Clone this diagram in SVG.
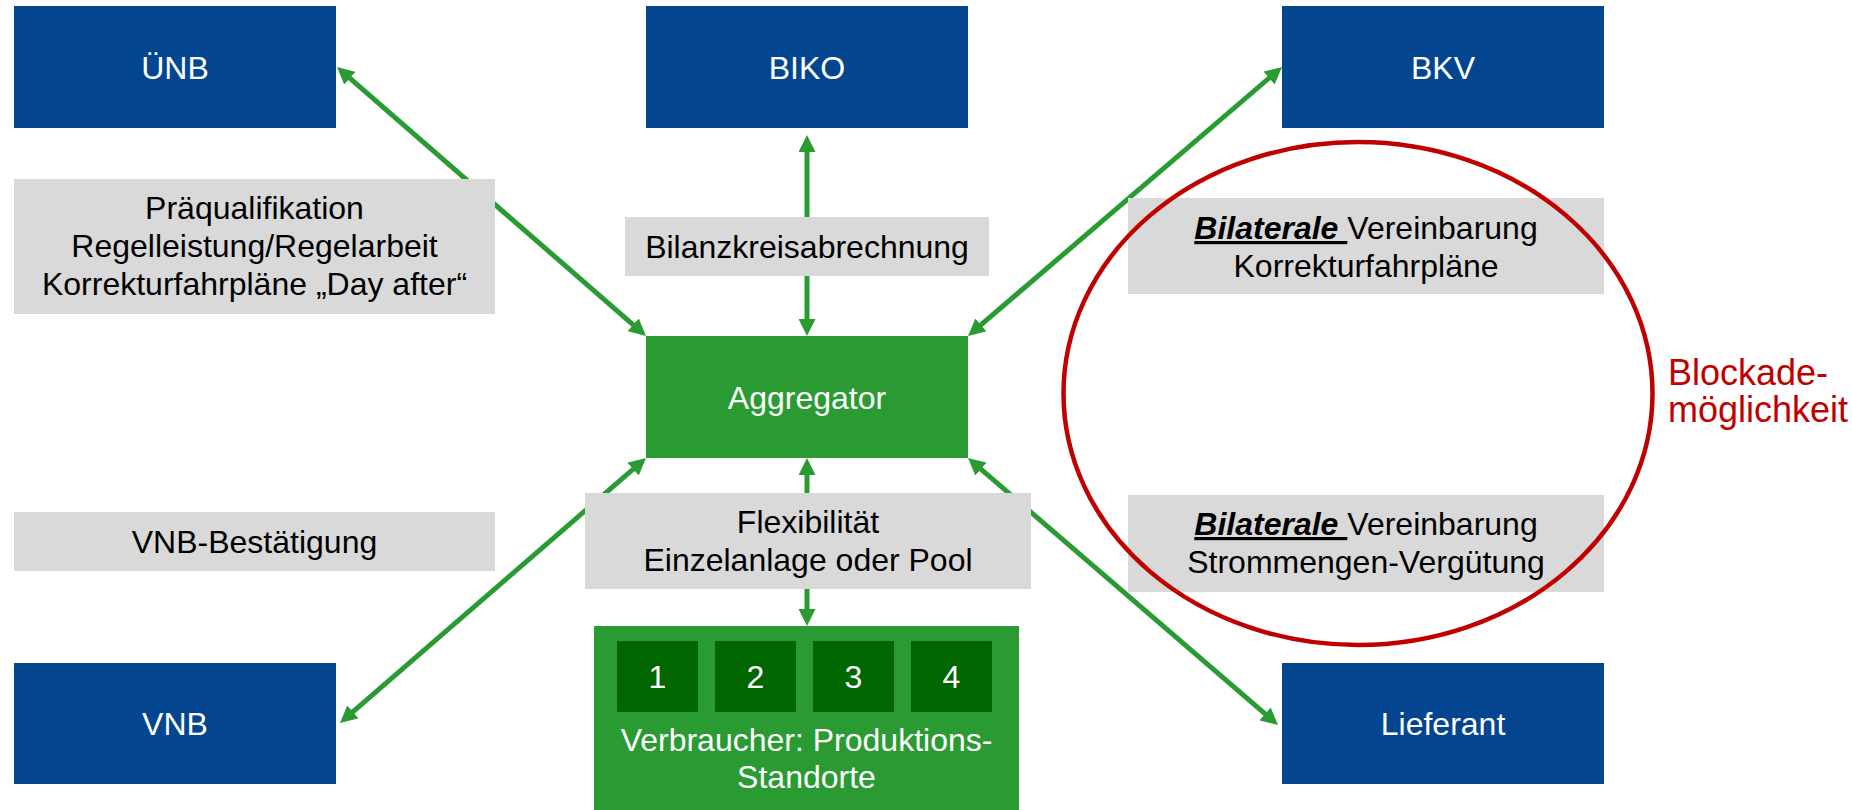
<svg xmlns="http://www.w3.org/2000/svg" width="1852" height="810" viewBox="0 0 1852 810">
  <style>
    text { font-family: "Liberation Sans", Arial, sans-serif; font-size: 32px; text-anchor: middle; }
    .actor { fill: #03468F; }
    .agg { fill: #2A9B33; }
    .site { fill: #006600; }
    .note { fill: #D9D9D9; }
    .light { fill: #FFFFFF; }
    .dark { fill: #000000; }
    .link { stroke: #2A9B33; stroke-width: 5; fill: none; marker-start: url(#tip); marker-end: url(#tip); }
    .bil { font-weight: bold; font-style: italic; text-decoration: underline; }
    .red { fill: #C00000; font-size: 36px; text-anchor: start; }
  </style>
  <defs>
    <marker id="tip" viewBox="0 0 17 17" refX="5" refY="8.5" markerWidth="17" markerHeight="17" markerUnits="userSpaceOnUse" orient="auto-start-reverse">
      <path d="M0,0 L17,8.5 L0,17 Z" fill="#2A9B33"/>
    </marker>
  </defs>

  <!-- connectors (drawn first so the label boxes sit on top) -->
  <g id="connectors">
    <line class="link" x1="346.05" y1="74.88" x2="636.95" y2="328.12"/>
    <line class="link" x1="807" y1="147" x2="807" y2="324"/>
    <line class="link" x1="977.11" y1="328.19" x2="1272.89" y2="74.81"/>
    <line class="link" x1="636.93" y1="465.86" x2="349.07" y2="715.14"/>
    <line class="link" x1="807" y1="470" x2="807" y2="614"/>
    <line class="link" x1="977.09" y1="465.83" x2="1268.91" y2="717.17"/>
  </g>

  <!-- market actors -->
  <g id="uenb">
    <rect class="actor" x="14" y="6" width="322" height="122"/>
    <text class="light" x="175" y="78.5">ÜNB</text>
  </g>
  <g id="biko">
    <rect class="actor" x="646" y="6" width="322" height="122"/>
    <text class="light" x="807" y="78.5">BIKO</text>
  </g>
  <g id="bkv">
    <rect class="actor" x="1282" y="6" width="322" height="122"/>
    <text class="light" x="1443" y="78.5">BKV</text>
  </g>
  <g id="vnb">
    <rect class="actor" x="14" y="663" width="322" height="121"/>
    <text class="light" x="175" y="735">VNB</text>
  </g>
  <g id="lieferant">
    <rect class="actor" x="1282" y="663" width="322" height="121"/>
    <text class="light" x="1443" y="735">Lieferant</text>
  </g>

  <!-- aggregator -->
  <g id="aggregator">
    <rect class="agg" x="646" y="336" width="322" height="122"/>
    <text class="light" x="807" y="408.5">Aggregator</text>
  </g>

  <!-- consumers / production sites -->
  <g id="verbraucher">
    <rect class="agg" x="594" y="626" width="425" height="184"/>
    <rect class="site" x="617" y="641" width="81" height="71"/>
    <rect class="site" x="715" y="641" width="81" height="71"/>
    <rect class="site" x="813" y="641" width="81" height="71"/>
    <rect class="site" x="911" y="641" width="81" height="71"/>
    <text class="light" x="657.5" y="688">1</text>
    <text class="light" x="755.5" y="688">2</text>
    <text class="light" x="853.5" y="688">3</text>
    <text class="light" x="951.5" y="688">4</text>
    <text class="light" x="806.5" y="751">Verbraucher: Produktions-</text>
    <text class="light" x="806.5" y="788">Standorte</text>
  </g>

  <!-- relation labels -->
  <g id="label-praequalifikation">
    <rect class="note" x="14" y="179" width="481" height="135"/>
    <text class="dark" x="254.5" y="219">Präqualifikation</text>
    <text class="dark" x="254.5" y="257">Regelleistung/Regelarbeit</text>
    <text class="dark" x="254.5" y="295">Korrekturfahrpläne „Day after“</text>
  </g>
  <g id="label-bilanzkreis">
    <rect class="note" x="625" y="217" width="364" height="59"/>
    <text class="dark" x="807" y="257.5">Bilanzkreisabrechnung</text>
  </g>
  <g id="label-vnb">
    <rect class="note" x="14" y="512" width="481" height="59"/>
    <text class="dark" x="254.5" y="552.5">VNB-Bestätigung</text>
  </g>
  <g id="label-flexibilitaet">
    <rect class="note" x="585" y="493" width="446" height="96"/>
    <text class="dark" x="808" y="533">Flexibilität</text>
    <text class="dark" x="808" y="571">Einzelanlage oder Pool</text>
  </g>
  <g id="label-korrektur">
    <rect class="note" x="1128" y="198" width="476" height="96"/>
    <text class="dark" x="1366" y="239"><tspan class="bil">Bilaterale </tspan>Vereinbarung</text>
    <text class="dark" x="1366" y="277">Korrekturfahrpläne</text>
  </g>
  <g id="label-strommengen">
    <rect class="note" x="1128" y="495" width="476" height="97"/>
    <text class="dark" x="1366" y="535"><tspan class="bil">Bilaterale </tspan>Vereinbarung</text>
    <text class="dark" x="1366" y="573">Strommengen-Vergütung</text>
  </g>

  <!-- blockade highlight -->
  <g id="blockade">
    <ellipse cx="1358" cy="393.5" rx="294.5" ry="251.5" fill="none" stroke="#C00000" stroke-width="4.5"/>
    <text class="red" x="1668" y="385">Blockade-</text>
    <text class="red" x="1668" y="422">möglichkeit</text>
  </g>
</svg>
